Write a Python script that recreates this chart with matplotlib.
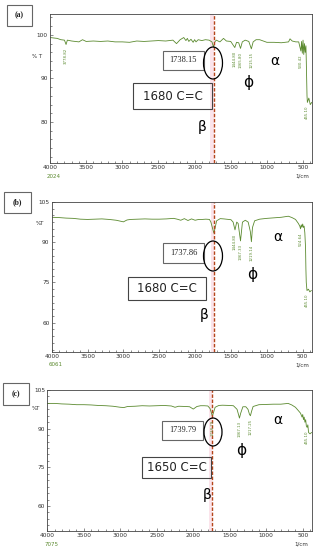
import matplotlib
matplotlib.use("Agg")
import matplotlib.pyplot as plt
from matplotlib.patches import Rectangle, Ellipse
from matplotlib.ticker import MultipleLocator

W, H = 315, 550

# ---------------- data ----------------
wn_a = [4000, 3900, 3850, 3800, 3778, 3760, 3700, 3600, 3550, 3500, 3400, 3300, 3200, 3100, 3000,
        2900, 2800, 2700, 2600, 2500, 2400, 2300, 2250, 2200, 2150, 2120, 2100, 2080, 2050, 2020,
        2000, 1980, 1950, 1900, 1850, 1800, 1760, 1738, 1720, 1700, 1650, 1600, 1560, 1500, 1444,
        1420, 1390, 1365, 1340, 1300, 1250, 1215, 1190, 1150, 1100, 1000, 900, 800, 700, 680,
        650, 600, 560, 540, 530, 520, 510, 500, 490, 480, 470, 460, 455, 450, 445, 440, 420, 400, 380]
t_a = [99.4, 99.2, 98.9, 98.8, 97.8, 98.8, 98.6, 98.4, 98.9, 98.5, 98.6, 98.5, 98.6, 98.4, 98.4,
       98.3, 98.6, 98.5, 98.6, 98.7, 98.6, 98.8, 98.0, 98.9, 99.4, 98.7, 99.2, 98.5, 99.0, 98.3,
       98.9, 98.4, 98.9, 98.7, 98.9, 98.8, 98.4, 97.2, 98.4, 98.8, 98.4, 99.2, 98.6, 98.5, 97.1,
       98.3, 98.2, 96.9, 98.4, 98.8, 98.5, 96.8, 98.4, 98.9, 98.9, 98.3, 98.3, 98.2, 98.4, 99.1,
       98.6, 98.4, 98.4, 97.0, 96.3, 98.5, 95.8, 98.8, 95.5, 98.0, 96.0, 97.5, 94.0, 90.0, 86.0,
       84.5, 85.5, 84.0, 84.5]

wn_b = [4000, 3900, 3800, 3700, 3600, 3500, 3400, 3300, 3200, 3100, 3000, 2950, 2900, 2800, 2700,
        2600, 2500, 2400, 2300, 2250, 2200, 2150, 2100, 2050, 2000, 1950, 1900, 1850, 1800, 1780,
        1760, 1738, 1720, 1700, 1650, 1600, 1500, 1470, 1444, 1420, 1400, 1367, 1340, 1300, 1260,
        1230, 1215, 1200, 1170, 1100, 1000, 900, 800, 700, 650, 600, 560, 540, 530, 520,
        510, 500, 490, 480, 470, 460, 455, 450, 440, 420, 400, 380]
t_b = [99.3, 99.2, 99.0, 98.9, 98.6, 98.5, 98.6, 98.7, 98.5, 98.2, 97.6, 98.3, 98.5, 98.6, 98.7,
       98.6, 98.6, 98.7, 98.9, 98.6, 98.2, 98.8, 98.1, 98.7, 98.2, 98.5, 98.5, 98.6, 98.5, 97.5,
       95.5, 93.4, 95.5, 98.0, 98.8, 98.7, 98.4, 97.5, 94.6, 97.5, 97.0, 90.5, 97.5, 98.2, 97.5,
       94.0, 90.2, 95.5, 98.0, 98.6, 98.9, 99.1, 99.3, 99.7, 99.2, 98.5, 97.0, 96.0, 95.0, 96.5,
       95.6, 96.8, 95.5, 96.0, 93.5, 88.0, 80.0, 75.0, 72.0, 72.5, 71.5, 72.0]

wn_c = [4000, 3900, 3800, 3700, 3600, 3500, 3400, 3300, 3200, 3100, 3000, 2950, 2900, 2800, 2700,
        2600, 2500, 2400, 2300, 2250, 2200, 2100, 2050, 2000, 1950, 1900, 1850, 1800, 1770, 1750,
        1738, 1720, 1700, 1650, 1600, 1500, 1450, 1400, 1380, 1367, 1350, 1320, 1280, 1250, 1230,
        1217, 1200, 1180, 1100, 1000, 900, 800, 700, 650, 600, 560, 530, 510, 500, 490,
        480, 470, 460, 450, 440, 430, 420, 400, 380]
t_c = [99.8, 99.8, 99.6, 99.5, 99.3, 99.3, 99.2, 99.0, 98.9, 98.7, 98.3, 98.2, 98.6, 98.7, 98.9,
       98.8, 98.9, 99.0, 98.8, 98.3, 98.7, 98.6, 98.5, 97.6, 98.6, 98.9, 98.9, 98.8, 97.8, 96.0,
       94.8, 96.5, 98.3, 99.0, 99.1, 99.0, 98.9, 97.5, 95.5, 94.1, 96.0, 98.5, 98.5, 97.5, 95.6,
       95.0, 96.8, 98.6, 99.3, 99.4, 99.5, 99.5, 99.8, 99.2, 98.3, 97.0, 96.0, 94.5, 95.5, 93.5,
       94.5, 92.5, 93.5, 91.0, 90.5, 91.5, 88.5, 88.0, 88.5]

peaks_a = [(3778, "3778.82"), (1444, "1444.80"), (1365, "1365.80"), (1215, "1215.15"), (530, "530.42"), (445, "455.10")]
peaks_b = [(1444, "1444.80"), (1367, "1367.33"), (1215, "1219.14"), (530, "524.64"), (440, "455.10")]
peaks_c = [(1738, "1738.79"), (1367, "1367.13"), (1217, "1217.25"), (440, "455.10")]

c_pos = [1738.15, 1737.86, 1739.79]
c_label = ["1738.15", "1737.86", "1739.79"]
cc_label = ["1680 C=C", "1680 C=C", "1650 C=C"]
panel = ["(a)", "(b)", "(c)"]
alloy = ["2024", "6061", "7075"]

fig = plt.figure(figsize=(W / 100, H / 100), dpi=100)
fig.patch.set_facecolor("white")

GREEN = "#5b8a2f"
RED = "#b5451b"


def fx(x):
    return x / W


def fy(y):
    return 1 - y / H


def box(x0, y0, x1, y1, text, fs, family, lw=0.8, ec="#555555", weight="normal"):
    fig.patches.append(Rectangle((fx(x0), fy(y1)), fx(x1) - fx(x0), fy(y0) - fy(y1),
                                 transform=fig.transFigure, fill=False, ec=ec, lw=lw))
    fig.text(fx((x0 + x1) / 2), fy((y0 + y1) / 2), text, ha="center", va="center",
             fontsize=fs, family=family, color="#222222", weight=weight)


# axes geometry (pixels): left, top, right, bottom
geo = [(50, 14, 312, 163), (51.7, 202, 312, 351.7), (47.3, 390, 311.7, 531)]
ylims = [(70.6, 104.8), (49.2, 105), (50.3, 105)]
yt = [[80, 90, 100], [60, 75, 90, 105], [60, 75, 90, 105]]
xlims = [(4000, 376), (4000, 370), (4000, 377)]
spectra = [(wn_a, t_a), (wn_b, t_b), (wn_c, t_c)]
peaks = [peaks_a, peaks_b, peaks_c]

# annotation layout (pixels)
lbl_box = [(7, 5, 32, 26), (4, 192, 31, 213), (3, 383, 29, 405)]
num_box = [(163, 51, 204, 70), (163, 243, 204, 263), (162, 421, 203, 440)]
cc_box = [(133, 83, 212, 109), (128, 277, 206, 300), (142, 457, 211, 478)]
ell = [(213, 63, 19, 32), (213, 256, 19, 30), (213, 432, 18, 28)]
beta = [(202, 127), (204, 315), (207, 495)]
alpha = [(275, 61), (278, 237), (278, 420)]
phi = [(248, 83), (252, 274), (241, 450)]
pct = [(37, 57), (40, 223), (36, 408)]

for i in range(3):
    l, t, r, b = geo[i]
    ax = fig.add_axes([fx(l), fy(b), fx(r) - fx(l), fy(t) - fy(b)])
    wn, tt = spectra[i]
    ax.axvspan(c_pos[i], c_pos[i] + 45, color="#f9d3df", alpha=0.6, lw=0)
    ax.plot(wn, tt, color=GREEN, lw=0.6)
    ax.set_xlim(*xlims[i])
    ax.set_ylim(*ylims[i])
    ax.set_xticks([4000, 3500, 3000, 2500, 2000, 1500, 1000, 500])
    ax.xaxis.set_minor_locator(MultipleLocator(100))
    ax.set_yticks(yt[i])
    ax.yaxis.set_minor_locator(MultipleLocator(2.5 if i else 2))
    ax.tick_params(which="both", direction="in", labelsize=4.2, colors="#333333",
                   width=0.4, pad=1.5)
    ax.tick_params(which="major", length=2.5)
    ax.tick_params(which="minor", length=1.3)
    for s in ax.spines.values():
        s.set_linewidth(0.6)
        s.set_color("#444444")
    ax.axvline(c_pos[i], color=RED, lw=1.0, ls=(0, (2.5, 1.2)))
    for p, txt in peaks[i]:
        yv = min(v for w, v in zip(wn, tt) if abs(w - p) <= 12)
        ax.text(p, yv - 0.8 * (ylims[i][1] - ylims[i][0]) / 35, txt, rotation=90, ha="center",
                va="top", fontsize=2.8, color=GREEN)
    fig.text(fx(pct[i][0]), fy(pct[i][1]), "% T" if i == 0 else "%T", fontsize=4, ha="center",
             va="center", color="#333333")
    fig.text(fx(l + 4), fy(b + 13), alloy[i], fontsize=4, color=GREEN, ha="center", va="center")
    fig.text(fx(r - 10), fy(b + 13), "1/cm", fontsize=4, color="#333333", ha="center", va="center")

    box(*lbl_box[i], panel[i], 5.5, "Liberation Serif", ec="#666666", weight="bold")
    box(*num_box[i], c_label[i], 6, "Liberation Serif", ec="#666666")
    box(*cc_box[i], cc_label[i], 8.5, "DejaVu Sans", ec="#444444")
    ex, ey, ew, eh = ell[i]
    fig.patches.append(Ellipse((fx(ex), fy(ey)), ew / W, eh / H, transform=fig.transFigure,
                               fill=False, ec="black", lw=0.9))
    fig.text(fx(beta[i][0]), fy(beta[i][1]), "β", fontsize=10, ha="center", va="center")
    fig.text(fx(alpha[i][0]), fy(alpha[i][1]), "α", fontsize=10, ha="center", va="center")
    fig.text(fx(phi[i][0]), fy(phi[i][1]), "ϕ", fontsize=11, ha="center", va="center")

fig.savefig("out.png", dpi=100)
